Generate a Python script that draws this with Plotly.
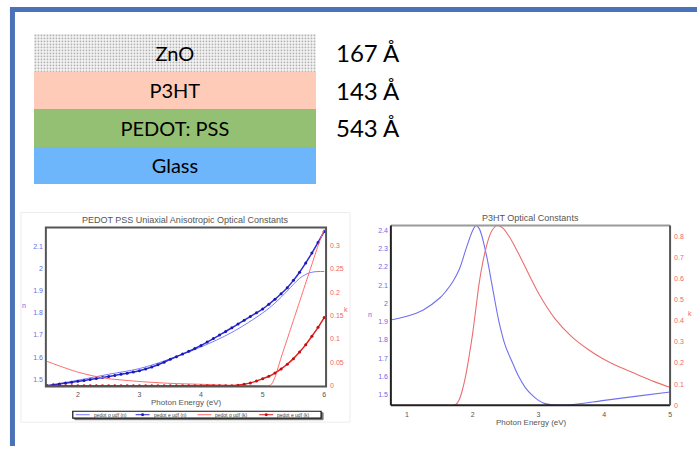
import plotly.graph_objects as go

W, H = 699, 449


def px(x):
    return x / W


def py(y):
    return 1 - y / H


# ---------------- data ----------------
layers = ["Glass", "PEDOT: PSS", "P3HT", "ZnO"]
layer_colors = ["#6db6fc", "#94c073", "#fecbb9", "#f4f4f4"]
layer_patterns = ["", "", "", "."]
layer_thickness = ["", "543 Å", "143 Å", "167 Å"]

pedot_x_o_n = [1.5, 2.0, 2.5, 3.0, 3.5, 4.0, 4.5, 5.0, 5.2, 5.4, 5.5, 5.6, 5.7, 5.8, 5.9, 6.0]
pedot_o_n = [1.470, 1.495, 1.522, 1.548, 1.592, 1.646, 1.712, 1.800, 1.845, 1.900, 1.930, 1.957, 1.975, 1.985, 1.988, 1.988]

pedot_x_e = [1.5, 1.6, 1.7, 1.8, 1.9, 2.0, 2.1, 2.2, 2.3, 2.4, 2.5, 2.6, 2.7, 2.8, 2.9,
             3.0, 3.1, 3.2, 3.3, 3.4, 3.5, 3.6, 3.7, 3.8, 3.9, 4.0, 4.1, 4.2, 4.3, 4.4,
             4.5, 4.6, 4.7, 4.8, 4.9, 5.0, 5.1, 5.2, 5.3, 5.4, 5.5, 5.6, 5.7, 5.8, 5.9, 6.0]
pedot_e_n = [1.470, 1.474, 1.478, 1.482, 1.486, 1.490, 1.494, 1.498, 1.503, 1.507, 1.512, 1.517,
             1.522, 1.527, 1.532, 1.538, 1.546, 1.555, 1.565, 1.577, 1.590, 1.602, 1.614, 1.626,
             1.639, 1.653, 1.668, 1.684, 1.700, 1.716, 1.733, 1.750, 1.767, 1.784, 1.801, 1.818,
             1.840, 1.862, 1.887, 1.915, 1.948, 1.985, 2.027, 2.072, 2.120, 2.170]
pedot_e_k = [0.000, 0.000, 0.000, 0.000, 0.000, 0.000, 0.000, 0.000, 0.000, 0.000, 0.000, 0.000,
             0.000, 0.000, 0.000, 0.000, 0.000, 0.000, 0.000, 0.000, 0.000, 0.000, 0.000, 0.000,
             0.000, 0.000, 0.000, 0.000, 0.000, 0.000, 0.000, 0.001, 0.003, 0.006, 0.010, 0.015,
             0.020, 0.027, 0.036, 0.046, 0.058, 0.072, 0.088, 0.106, 0.125, 0.146]

pedot_x_o_k = [1.5, 1.75, 2.0, 2.25, 2.5, 3.0, 3.5, 4.0, 4.5, 5.0, 5.1, 5.15, 5.2, 5.3, 5.4,
               5.5, 5.6, 5.7, 5.8, 5.9, 6.0]
pedot_o_k = [0.052, 0.040, 0.029, 0.021, 0.015, 0.009, 0.005, 0.003, 0.001, 0.000, 0.000, 0.004,
             0.018, 0.060, 0.100, 0.140, 0.180, 0.220, 0.260, 0.300, 0.335]

pedot_names = ["pedot o udf (n)", "pedot e udf (n)", "pedot o udf (k)", "pedot e udf (k)"]
pedot_x_ticks = [2, 3, 4, 5, 6]
pedot_n_ticks = [1.5, 1.6, 1.7, 1.8, 1.9, 2.0, 2.1]
pedot_n_ticktext = ["1.5", "1.6", "1.7", "1.8", "1.9", "2", "2.1"]
pedot_k_ticks = [0, 0.05, 0.1, 0.15, 0.2, 0.25, 0.3]
pedot_k_ticktext = ["0", "0.05", "0.1", "0.15", "0.2", "0.25", "0.3"]

p3ht_x_n = [0.75, 1.0, 1.25, 1.5, 1.6, 1.7, 1.8, 1.9, 2.0, 2.05, 2.1, 2.2, 2.3, 2.4, 2.5,
            2.6, 2.7, 2.8, 2.9, 3.0, 3.1, 3.2, 3.5, 4.0, 4.5, 5.0]
p3ht_n = [1.910, 1.930, 1.965, 2.030, 2.070, 2.120, 2.190, 2.300, 2.400, 2.427, 2.410, 2.280,
          2.090, 1.900, 1.765, 1.680, 1.600, 1.540, 1.500, 1.470, 1.452, 1.446, 1.446, 1.470,
          1.493, 1.516]
p3ht_x_k = [0.75, 1.0, 1.5, 1.7, 1.75, 1.8, 1.85, 1.9, 1.95, 2.0, 2.05, 2.1, 2.15, 2.2, 2.25,
            2.3, 2.37, 2.45, 2.55, 2.65, 2.75, 2.9, 3.0, 3.25, 3.5, 3.75, 4.0, 4.25, 4.5, 4.75, 5.0]
p3ht_k = [0.000, 0.000, 0.000, 0.000, 0.005, 0.030, 0.080, 0.150, 0.240, 0.340, 0.460, 0.580,
          0.670, 0.740, 0.795, 0.830, 0.850, 0.840, 0.800, 0.745, 0.685, 0.590, 0.530, 0.410,
          0.326, 0.265, 0.216, 0.178, 0.146, 0.113, 0.085]
p3ht_x_ticks = [1, 2, 3, 4, 5]
p3ht_n_ticks = [1.5, 1.6, 1.7, 1.8, 1.9, 2.0, 2.1, 2.2, 2.3, 2.4]
p3ht_n_ticktext = ["1.5", "1.6", "1.7", "1.8", "1.9", "2", "2.1", "2.2", "2.3", "2.4"]
p3ht_k_ticks = [0, 0.1, 0.2, 0.3, 0.4, 0.5, 0.6, 0.7, 0.8]
p3ht_k_ticktext = ["0", "0.1", "0.2", "0.3", "0.4", "0.5", "0.6", "0.7", "0.8"]

# ---------------- styles ----------------
FONT = "Liberation Sans"
BLUE_TXT = "#6a6ae8"
RED_TXT = "#f06868"
GREY_TXT = "#555555"
C_O_N = "#7a7aff"
C_E_N = "#2a2ad8"
C_E_N_M = "#1a1ab0"
C_O_K = "#ff6a6a"
C_E_K = "#e02020"
C_E_K_M = "#c01010"

fig = go.Figure()

# layer stack as a horizontal bar stack
fig.add_trace(go.Bar(
    y=layers, x=[1] * len(layers), orientation="h", width=1,
    marker=dict(color=layer_colors, line_width=0,
                pattern=dict(shape=layer_patterns, fgcolor="#e6e6e6", size=3, solidity=0.25)),
    text=layers, textposition="inside", insidetextanchor="middle", textangle=0,
    textfont=dict(family="Lato", size=20, color="black"),
    xaxis="x3", yaxis="y5", showlegend=False, hoverinfo="skip"))

# PEDOT:PSS plot
fig.add_trace(go.Scatter(x=pedot_x_o_n, y=pedot_o_n, mode="lines", name=pedot_names[0],
                         line=dict(color=C_O_N, width=1, shape="spline"),
                         xaxis="x", yaxis="y"))
fig.add_trace(go.Scatter(x=pedot_x_e, y=pedot_e_n, mode="lines+markers", name=pedot_names[1],
                         line=dict(color=C_E_N, width=1.5, shape="spline"),
                         marker=dict(color=C_E_N_M, size=3),
                         xaxis="x", yaxis="y"))
fig.add_trace(go.Scatter(x=pedot_x_o_k, y=pedot_o_k, mode="lines", name=pedot_names[2],
                         line=dict(color=C_O_K, width=1, shape="spline", smoothing=0.6),
                         xaxis="x", yaxis="y2"))
fig.add_trace(go.Scatter(x=pedot_x_e, y=pedot_e_k, mode="lines+markers", name=pedot_names[3],
                         line=dict(color=C_E_K, width=1.5, shape="spline", smoothing=0.6),
                         marker=dict(color=C_E_K_M, size=3),
                         xaxis="x", yaxis="y2"))

# P3HT plot
fig.add_trace(go.Scatter(x=p3ht_x_n, y=p3ht_n, mode="lines",
                         line=dict(color="#7070f0", width=1.1, shape="spline"),
                         xaxis="x2", yaxis="y3"))
fig.add_trace(go.Scatter(x=p3ht_x_k, y=p3ht_k, mode="lines",
                         line=dict(color="#ec6e6e", width=1.1, shape="spline"),
                         xaxis="x2", yaxis="y4"))

tickfont_x = dict(family=FONT, size=7, color=GREY_TXT)
tickfont_b = dict(family=FONT, size=7, color=BLUE_TXT)
tickfont_r = dict(family=FONT, size=7, color=RED_TXT)

common_ax = dict(showgrid=False, zeroline=False, showline=False, ticks="", fixedrange=True)

fig.update_layout(
    width=W, height=H, margin=dict(l=0, r=0, t=0, b=0),
    paper_bgcolor="white", plot_bgcolor="white",
    bargap=0, showlegend=False,
    # layer stack axes
    xaxis3=dict(domain=[px(34), px(317)], range=[0, 1], visible=False, anchor="y5"),
    yaxis5=dict(domain=[py(185.5), py(34)], range=[-0.5, 3.5], visible=False, anchor="x3",
                categoryorder="array", categoryarray=layers),
    # PEDOT axes
    xaxis=dict(domain=[px(46), px(327)], range=[1.48, 6.03], anchor="y",
               tickvals=pedot_x_ticks, tickfont=tickfont_x, ticklabelstandoff=3, **common_ax),
    yaxis=dict(domain=[py(389), py(229)], range=[1.467, 2.188], anchor="x",
               tickvals=pedot_n_ticks, ticktext=pedot_n_ticktext, tickfont=tickfont_b,
               ticklabelstandoff=2, **common_ax),
    yaxis2=dict(domain=[py(389), py(229)], range=[-0.0015, 0.339], anchor="x", overlaying="y",
                side="right", tickvals=pedot_k_ticks, ticktext=pedot_k_ticktext,
                tickfont=tickfont_r, ticklabelstandoff=3, **common_ax),
    # P3HT axes
    xaxis2=dict(domain=[px(392), px(672)], range=[0.757, 5.0], anchor="y3",
                tickvals=p3ht_x_ticks, tickfont=tickfont_x, ticklabelstandoff=4, **common_ax),
    yaxis3=dict(domain=[py(408), py(227)], range=[1.443, 2.427], anchor="x2",
                tickvals=p3ht_n_ticks, ticktext=p3ht_n_ticktext, tickfont=tickfont_b,
                ticklabelstandoff=2, **common_ax),
    yaxis4=dict(domain=[py(408), py(227)], range=[0, 0.85], anchor="x2", overlaying="y3",
                side="right", tickvals=p3ht_k_ticks, ticktext=p3ht_k_ticktext,
                tickfont=tickfont_r, ticklabelstandoff=3, **common_ax),
)

shapes = []
# slide frame
shapes.append(dict(type="line", xref="paper", yref="paper", x0=px(10), x1=1.0, y0=py(9.5), y1=py(9.5),
                   line=dict(color="#4a72b8", width=5)))
shapes.append(dict(type="line", xref="paper", yref="paper", x0=px(12.5), x1=px(12.5), y0=py(7), y1=0,
                   line=dict(color="#4a72b8", width=5)))
# faint image border of the left plot
shapes.append(dict(type="rect", xref="paper", yref="paper", x0=px(21), x1=px(351), y0=py(425), y1=py(214),
                   line=dict(color="#ececec", width=1), layer="below"))
# PEDOT plot frame
shapes.append(dict(type="rect", xref="x domain", yref="y domain", x0=0, x1=1, y0=0, y1=1,
                   line=dict(color="#555555", width=2)))
# P3HT plot frame
shapes.append(dict(type="line", xref="x2 domain", yref="y3 domain", x0=0, x1=1, y0=1, y1=1,
                   line=dict(color="#9a9a9a", width=2)))
shapes.append(dict(type="line", xref="x2 domain", yref="y3 domain", x0=0, x1=0, y0=0, y1=1,
                   line=dict(color="#222222", width=2)))
shapes.append(dict(type="line", xref="x2 domain", yref="y3 domain", x0=0, x1=1, y0=0, y1=0,
                   line=dict(color="#222222", width=2)))
shapes.append(dict(type="line", xref="x2 domain", yref="y3 domain", x0=1, x1=1, y0=0, y1=1,
                   line=dict(color="#555555", width=2)))

# hand-built compact legend for the PEDOT plot
LEG_Y = 417.5
shapes.append(dict(type="rect", xref="paper", yref="paper", x0=px(75), x1=px(324), y0=py(422.5), y1=py(415.5),
                   line=dict(color="#777777", width=1), fillcolor="#777777"))
shapes.append(dict(type="rect", xref="paper", yref="paper", x0=px(73), x1=px(322), y0=py(421), y1=py(414),
                   line=dict(color="#111111", width=1.2), fillcolor="white"))
leg_x = [76, 136, 198, 260]
leg_cols = [C_O_N, C_E_N, C_O_K, C_E_K]
leg_mark = [None, C_E_N_M, None, C_E_K_M]
ann = []
for lx, lc, lm, nm in zip(leg_x, leg_cols, leg_mark, pedot_names):
    shapes.append(dict(type="line", xref="paper", yref="paper", x0=px(lx), x1=px(lx + 14),
                       y0=py(LEG_Y), y1=py(LEG_Y), line=dict(color=lc, width=1)))
    if lm:
        shapes.append(dict(type="circle", xref="paper", yref="paper", x0=px(lx + 5.5), x1=px(lx + 8.5),
                           y0=py(LEG_Y + 1.5), y1=py(LEG_Y - 1.5), line=dict(color=lm, width=0),
                           fillcolor=lm))
    ann.append(dict(text=nm, xref="paper", yref="paper", x=px(lx + 16), y=py(LEG_Y),
                    xanchor="left", yanchor="middle", showarrow=False,
                    font=dict(family=FONT, size=5, color="#444444")))
fig.update_layout(shapes=shapes)

for lay, th in zip(layers, layer_thickness):
    if th:
        ann.append(dict(text=th, xref="paper", yref="y5", x=px(335), y=lay, xanchor="left",
                        yanchor="middle", showarrow=False,
                        font=dict(family="Lato", size=24, color="black")))


def label(text, x, y, size, color):
    return dict(text=text, xref="paper", yref="paper", x=px(x), y=py(y), xanchor="center",
                yanchor="middle", showarrow=False, font=dict(family=FONT, size=size, color=color))


ann += [
    label("PEDOT PSS Uniaxial Anisotropic Optical Constants", 186, 221, 9, GREY_TXT),
    label("Photon Energy (eV)", 187, 405.5, 8, GREY_TXT),
    label("n", 24, 308, 7, BLUE_TXT),
    label("k", 347, 312, 7, RED_TXT),
    label("P3HT Optical Constants", 532, 219.5, 9, GREY_TXT),
    label("Photon Energy (eV)", 533, 425, 8, GREY_TXT),
    label("n", 371, 317, 7, BLUE_TXT),
    label("k", 692, 316, 7, RED_TXT),
]
fig.update_layout(annotations=ann)

fig.write_html("out.html")
